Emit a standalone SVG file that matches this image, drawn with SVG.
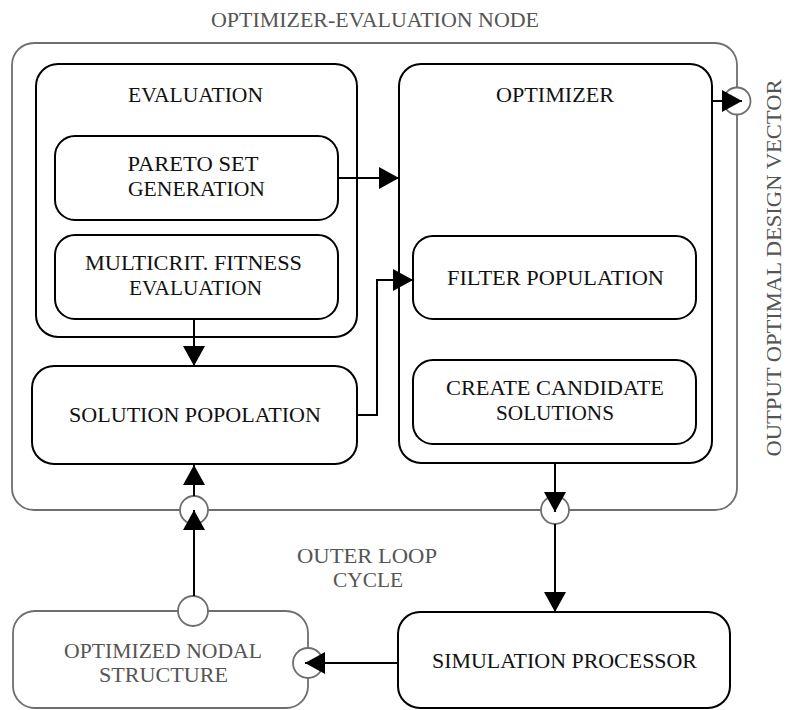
<svg xmlns="http://www.w3.org/2000/svg" width="787" height="710" viewBox="0 0 787 710">
  <defs>
    <style>
      .box { fill: #ffffff; stroke: #000000; stroke-width: 2; }
      .outer { fill: none; stroke: #6e6e6e; stroke-width: 1.8; }
      .port { fill: #ffffff; stroke: #6e6e6e; stroke-width: 1.8; }
      text { font-family: "Liberation Serif", "Times New Roman", serif; font-size: 22px; text-anchor: middle; }
      .lbl { fill: #111111; }
      .glbl { fill: #555555; }
      .edge { fill: none; stroke: #000000; stroke-width: 2; }
    </style>
    <marker id="arrow" viewBox="0 0 20 22" refX="20" refY="11" markerWidth="20" markerHeight="22" markerUnits="userSpaceOnUse" orient="auto">
      <path d="M0,0 L20,11 L0,22 Z" fill="#000000"/>
    </marker>
  </defs>

  <!-- outer container -->
  <g id="optimizer-evaluation-node">
    <rect class="outer" x="12" y="43" width="725" height="467" rx="22" ry="22"/>
    <text class="glbl" x="375" y="27" font-size="21" textLength="328" lengthAdjust="spacingAndGlyphs">OPTIMIZER-EVALUATION NODE</text>
  </g>

  <g id="evaluation">
    <rect class="box" x="36" y="64" width="321" height="273" rx="22" ry="22"/>
    <text class="lbl" x="195.5" y="102" textLength="135" lengthAdjust="spacingAndGlyphs">EVALUATION</text>
  </g>

  <g id="pareto-set">
    <rect class="box" x="55" y="136" width="283" height="84" rx="20" ry="20"/>
    <text class="lbl" x="193" y="171" textLength="131" lengthAdjust="spacingAndGlyphs">PARETO SET</text>
    <text class="lbl" x="196.5" y="196" textLength="137" lengthAdjust="spacingAndGlyphs">GENERATION</text>
  </g>

  <g id="multicrit-fitness">
    <rect class="box" x="55" y="235" width="283" height="84" rx="20" ry="20"/>
    <text class="lbl" x="193.5" y="270" textLength="217" lengthAdjust="spacingAndGlyphs">MULTICRIT. FITNESS</text>
    <text class="lbl" x="195.5" y="295" textLength="133" lengthAdjust="spacingAndGlyphs">EVALUATION</text>
  </g>

  <g id="solution-population">
    <rect class="box" x="32" y="366" width="325" height="98" rx="22" ry="22"/>
    <text class="lbl" x="195" y="422" textLength="252" lengthAdjust="spacingAndGlyphs">SOLUTION POPOLATION</text>
  </g>

  <g id="optimizer">
    <rect class="box" x="399" y="64" width="313" height="399" rx="22" ry="22"/>
    <text class="lbl" x="555" y="102" textLength="118" lengthAdjust="spacingAndGlyphs">OPTIMIZER</text>
  </g>

  <g id="filter-population">
    <rect class="box" x="413" y="236" width="283" height="83" rx="20" ry="20"/>
    <text class="lbl" x="555.5" y="285" textLength="217" lengthAdjust="spacingAndGlyphs">FILTER POPULATION</text>
  </g>

  <g id="create-candidates">
    <rect class="box" x="413" y="360" width="283" height="84" rx="20" ry="20"/>
    <text class="lbl" x="555" y="395" textLength="218" lengthAdjust="spacingAndGlyphs">CREATE CANDIDATE</text>
    <text class="lbl" x="555" y="420" textLength="118" lengthAdjust="spacingAndGlyphs">SOLUTIONS</text>
  </g>

  <g id="simulation-processor">
    <rect class="box" x="398" y="612" width="332" height="96" rx="22" ry="22"/>
    <text class="lbl" x="564.5" y="668" textLength="265" lengthAdjust="spacingAndGlyphs">SIMULATION PROCESSOR</text>
  </g>

  <g id="optimized-nodal-structure">
    <rect class="outer" x="13" y="611" width="295" height="97" rx="22" ry="22" fill="#ffffff"/>
    <text class="glbl" x="163" y="658" textLength="198" lengthAdjust="spacingAndGlyphs">OPTIMIZED NODAL</text>
    <text class="glbl" x="163.5" y="682" textLength="129" lengthAdjust="spacingAndGlyphs">STRUCTURE</text>
  </g>

  <g id="outer-loop-label">
    <text class="glbl" x="367" y="563" textLength="140" lengthAdjust="spacingAndGlyphs">OUTER LOOP</text>
    <text class="glbl" x="368" y="587" textLength="70" lengthAdjust="spacingAndGlyphs">CYCLE</text>
  </g>

  <g id="output-label">
    <text class="glbl" transform="translate(781,268) rotate(-90)" textLength="377" lengthAdjust="spacingAndGlyphs">OUTPUT OPTIMAL DESIGN VECTOR</text>
  </g>

  <!-- ports on the container borders -->
  <g id="ports">
    <circle class="port" cx="737" cy="101" r="13.5"/>
    <circle class="port" cx="194" cy="510" r="14"/>
    <circle class="port" cx="555" cy="510" r="14"/>
    <circle class="port" cx="193" cy="611" r="15"/>
    <circle class="port" cx="308" cy="663" r="15"/>
  </g>

  <!-- connectors -->
  <g id="connectors">
    <path class="edge" d="M338,178 H399" marker-end="url(#arrow)"/>
    <path class="edge" d="M194,319 V366" marker-end="url(#arrow)"/>
    <path class="edge" d="M357,415 H377 V280 H413" marker-end="url(#arrow)"/>
    <path class="edge" d="M712,101 H742" marker-end="url(#arrow)"/>
    <path class="edge" d="M555,463 V512" marker-end="url(#arrow)"/>
    <path class="edge" d="M555,524 V612" marker-end="url(#arrow)"/>
    <path class="edge" d="M398,663 H305" marker-end="url(#arrow)"/>
    <path class="edge" d="M194,596 V510" marker-end="url(#arrow)"/>
    <path class="edge" d="M194,496 V465" marker-end="url(#arrow)"/>
  </g>
</svg>
